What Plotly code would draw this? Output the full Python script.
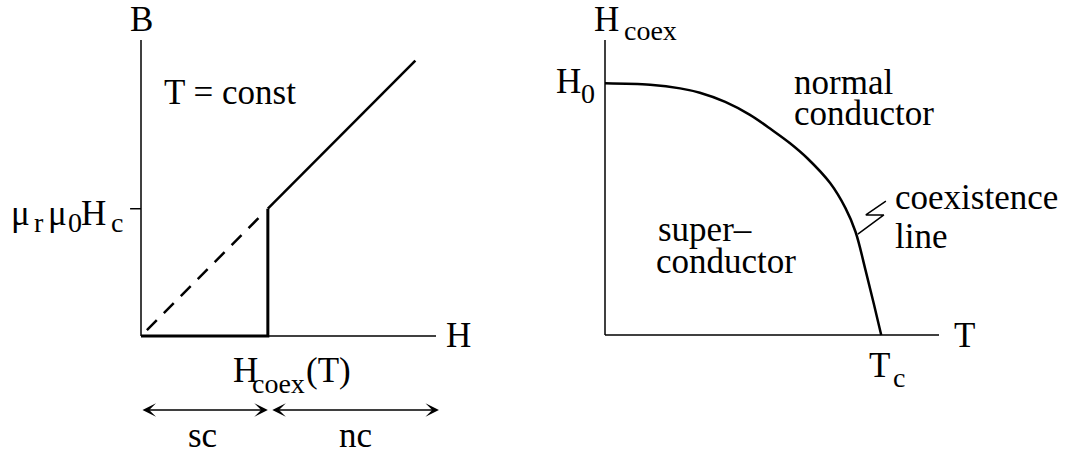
import plotly.graph_objects as go

# left panel: B(H) at constant T
H_coex = 4.3
H_sc = [0, H_coex, H_coex]          # superconducting branch + jump
B_sc = [0, 0, H_coex]
H_nc = [H_coex, 9.3]                # normal conducting branch
B_nc = [H_coex, 9.3]
H_dash = [0.2, 4.05]                # extrapolation B = mu_r mu_0 H
B_dash = [0.2, 4.05]
B_tick = [H_coex]
sc_span = [0, H_coex]
nc_span = [H_coex + 0.1, 10.1]

# right panel: coexistence line H_coex(T)
T_curve = [0, 1.35, 2.25, 2.84, 3.6, 4.34, 5.0, 5.54, 6.05, 6.74, 7.2, 7.5, 7.8, 8.05, 8.27]
H_curve = [8.53, 8.48, 8.36, 8.21, 7.9, 7.46, 6.95, 6.5, 6.0, 5.15, 4.3, 3.5, 2.2, 1.05, 0]
T_zig = [8.41, 7.81, 8.35, 7.57]
H_zig = [4.54, 4.07, 4.07, 3.42]

AX_LEN = 10
FONT = "Liberation Serif"
BIG, SMALL = 35, 28

fig = go.Figure()


def line(x, y, xa, ya, width, dash="solid"):
    fig.add_trace(go.Scatter(x=x, y=y, xaxis=xa, yaxis=ya, mode="lines",
                             line=dict(color="black", width=width, dash=dash),
                             hoverinfo="skip", showlegend=False))


# axes drawn as traces
line([0, AX_LEN], [0, 0], "x", "y", 1.5)
line([0, 0], [0, AX_LEN], "x", "y", 1.5)
line([0, AX_LEN], [0, 0], "x2", "y2", 1.5)
line([0, 0], [0, AX_LEN], "x2", "y2", 1.5)
line([-0.37, 0], B_tick * 2, "x", "y", 1.5)

line(H_sc, B_sc, "x", "y", 3)
line(H_nc, B_nc, "x", "y", 2.5)
line(H_dash, B_dash, "x", "y", 2.5, dash="14px,10px")

fig.add_trace(go.Scatter(x=T_curve, y=H_curve, xaxis="x2", yaxis="y2", mode="lines",
                         line=dict(color="black", width=2.5, shape="spline", smoothing=1.0),
                         hoverinfo="skip", showlegend=False))
line(T_zig, H_zig, "x2", "y2", 1.5)


def label(xa, ya, x, y_base, text, size=BIG, anchor="left"):
    # y_base is the text baseline; shift the box centre up from it
    fig.add_annotation(x=x, y=y_base, xref=xa, yref=ya, text=text, showarrow=False,
                       xanchor=anchor, yanchor="middle", yshift=0.3375 * size, borderpad=0,
                       font=dict(family=FONT, size=size, color="black"))


# left texts
label("x", "y", 0, 10.30, "B", anchor="center")
label("x", "y", 0.75, 7.84, "T = const")
label("x", "y", 10.31, -0.37, "H")
label("x", "y", -4.44, 3.75, "μ")
label("x", "y", -3.66, 3.51, "r", SMALL)
label("x", "y", -3.19, 3.75, "μ")
label("x", "y", -2.51, 3.51, "0", SMALL)
label("x", "y", -2.07, 3.75, "H")
label("x", "y", -1.05, 3.51, "c", SMALL)
label("x", "y", 3.08, -1.55, "H")
label("x", "y", 3.73, -1.93, "coex", SMALL)
label("x", "y", 5.56, -1.55, "(T)")
label("x", "y", 1.56, -3.75, "sc")
label("x", "y", 6.68, -3.75, "nc")

# right texts
label("x2", "y2", -0.36, 10.3, "H")
label("x2", "y2", 0.54, 10.0, "coex", SMALL)
label("x2", "y2", -1.5, 8.2, "H")
label("x2", "y2", -0.75, 7.86, "0", SMALL)
label("x2", "y2", 5.63, 8.17, "normal")
label("x2", "y2", 5.63, 7.12, "conductor")
label("x2", "y2", 8.66, 4.27, "coexistence")
label("x2", "y2", 8.66, 2.95, "line")
label("x2", "y2", 1.56, 3.19, "super–")
label("x2", "y2", 1.5, 2.1, "conductor")
label("x2", "y2", 10.42, -0.41, "T")
label("x2", "y2", 7.87, -1.42, "T")
label("x2", "y2", 8.59, -1.76, "c", SMALL)

# double arrows for sc / nc ranges
for span in (sc_span, nc_span):
    fig.add_annotation(x=span[1], y=-2.5, ax=span[0], ay=-2.5, xref="x", yref="y",
                       axref="x", ayref="y", text="", showarrow=True,
                       arrowside="end+start", arrowhead=3, arrowsize=1.5,
                       arrowwidth=1.5, arrowcolor="black", standoff=0, startstandoff=0)

# pixel origin of each panel and px per data unit
x0_l, y0_l, sx_l, sy_l = 141, 336, 29.5, 29.6
x0_r, y0_r, sx_r, sy_r = 605, 335, 33.4, 29.5

hidden = dict(visible=False, fixedrange=True)
fig.update_layout(
    width=1066, height=458, margin=dict(l=0, r=0, t=0, b=0),
    paper_bgcolor="white", plot_bgcolor="white", showlegend=False,
    xaxis=dict(domain=[0, 0.5], range=[-x0_l / sx_l, (533 - x0_l) / sx_l], **hidden),
    yaxis=dict(domain=[0, 1], range=[-(458 - y0_l) / sy_l, y0_l / sy_l], **hidden),
    xaxis2=dict(domain=[0.5, 1], range=[-(x0_r - 533) / sx_r, (1066 - x0_r) / sx_r], **hidden),
    yaxis2=dict(domain=[0, 1], range=[-(458 - y0_r) / sy_r, y0_r / sy_r], anchor="x2", **hidden),
)

# drop the default 8px body margin so the figure sits at the page corner
fig.write_html("out.html", config={"displayModeBar": False},
               post_script="document.body.style.margin = '0';")
